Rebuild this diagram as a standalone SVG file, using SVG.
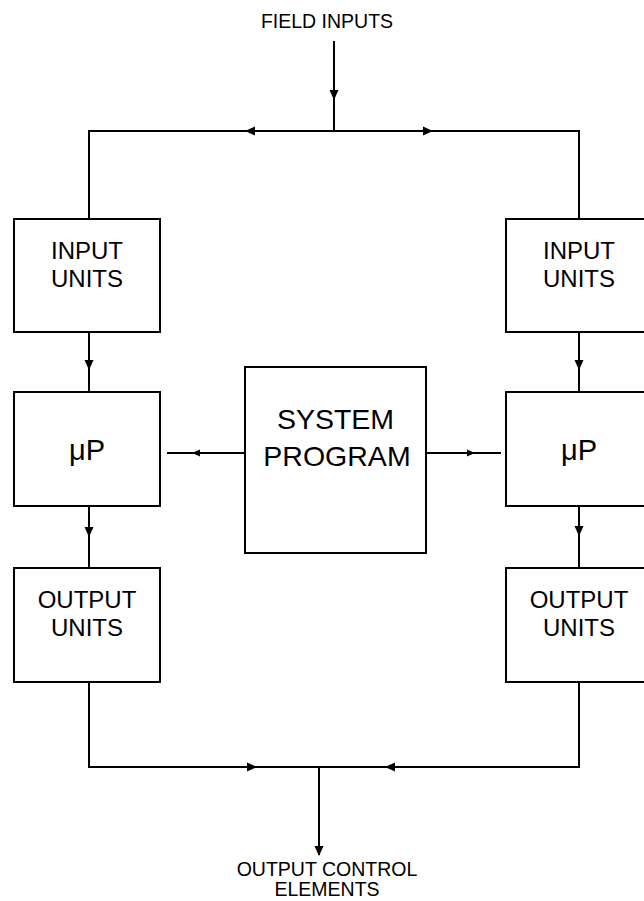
<svg xmlns="http://www.w3.org/2000/svg" xmlns:xlink="http://www.w3.org/1999/xlink" width="644" height="901" viewBox="0 0 644 901">
<style>
  .box { fill: #ffffff; stroke: #000000; stroke-width: 2; }
  .ln { fill: none; stroke: #000000; stroke-width: 2; }
  text { font-family: "Liberation Sans", Arial, Helvetica, sans-serif; fill: #000000; text-anchor: middle; }
  .lbl { font-size: 19.5px; }
  .unit { font-size: 24px; }
  .up { font-size: 29px; }
  .sys { font-size: 28.5px; }
</style>
<defs>
  <path id="ah" d="M0,0 L-10,-4.5 L-10,4.5 Z" fill="#000000"/>
  <path id="ahs" d="M0,0 L-8,-3.5 L-8,3.5 Z" fill="#000000"/>
</defs>
<rect width="644" height="901" fill="#ffffff"/>

<g id="connectors">
  <path class="ln" d="M334,41 V131"/>
  <path class="ln" d="M89,219 V131 H579 V219"/>
  <path class="ln" d="M89,332 V392"/>
  <path class="ln" d="M579,332 V392"/>
  <path class="ln" d="M89,506 V568"/>
  <path class="ln" d="M579,506 V568"/>
  <path class="ln" d="M89,682 V767 H579 V682"/>
  <path class="ln" d="M319,767 V855"/>
  <path class="ln" d="M167,453 H245"/>
  <path class="ln" d="M426,453 H501"/>
  <use xlink:href="#ah" href="#ah" transform="translate(334,100) rotate(90)"/>
  <use xlink:href="#ah" href="#ah" transform="translate(245,131) rotate(180)"/>
  <use xlink:href="#ah" href="#ah" transform="translate(433,131)"/>
  <use xlink:href="#ah" href="#ah" transform="translate(89,370) rotate(90)"/>
  <use xlink:href="#ah" href="#ah" transform="translate(579,370) rotate(90)"/>
  <use xlink:href="#ah" href="#ah" transform="translate(89,537) rotate(90)"/>
  <use xlink:href="#ah" href="#ah" transform="translate(579,536) rotate(90)"/>
  <use xlink:href="#ahs" href="#ahs" transform="translate(192,453) rotate(180)"/>
  <use xlink:href="#ahs" href="#ahs" transform="translate(475,453)"/>
  <use xlink:href="#ah" href="#ah" transform="translate(257,767)"/>
  <use xlink:href="#ah" href="#ah" transform="translate(385,767) rotate(180)"/>
  <use xlink:href="#ah" href="#ah" transform="translate(319,856) rotate(90)"/>
</g>

<g id="field-inputs">
  <text class="lbl" x="327" y="28">FIELD INPUTS</text>
</g>

<g id="input-units-left">
  <rect class="box" x="14" y="219" width="146" height="113"/>
  <text class="unit" x="87" y="259">INPUT</text>
  <text class="unit" x="87" y="287">UNITS</text>
</g>

<g id="input-units-right">
  <rect class="box" x="506" y="219" width="146" height="113"/>
  <text class="unit" x="579" y="259">INPUT</text>
  <text class="unit" x="579" y="287">UNITS</text>
</g>

<g id="up-left">
  <rect class="box" x="14" y="392" width="146" height="114"/>
  <text class="up" x="87" y="460">μP</text>
</g>

<g id="up-right">
  <rect class="box" x="506" y="392" width="146" height="114"/>
  <text class="up" x="579" y="460">μP</text>
</g>

<g id="system-program">
  <rect class="box" x="245" y="367" width="181" height="186"/>
  <text class="sys" x="335.5" y="429">SYSTEM</text>
  <text class="sys" x="337" y="466">PROGRAM</text>
</g>

<g id="output-units-left">
  <rect class="box" x="14" y="568" width="146" height="114"/>
  <text class="unit" x="87" y="608">OUTPUT</text>
  <text class="unit" x="87" y="636">UNITS</text>
</g>

<g id="output-units-right">
  <rect class="box" x="506" y="568" width="146" height="114"/>
  <text class="unit" x="579" y="608">OUTPUT</text>
  <text class="unit" x="579" y="636">UNITS</text>
</g>

<g id="output-control-elements">
  <text class="lbl" x="327" y="876">OUTPUT CONTROL</text>
  <text class="lbl" x="327" y="896">ELEMENTS</text>
</g>
</svg>
